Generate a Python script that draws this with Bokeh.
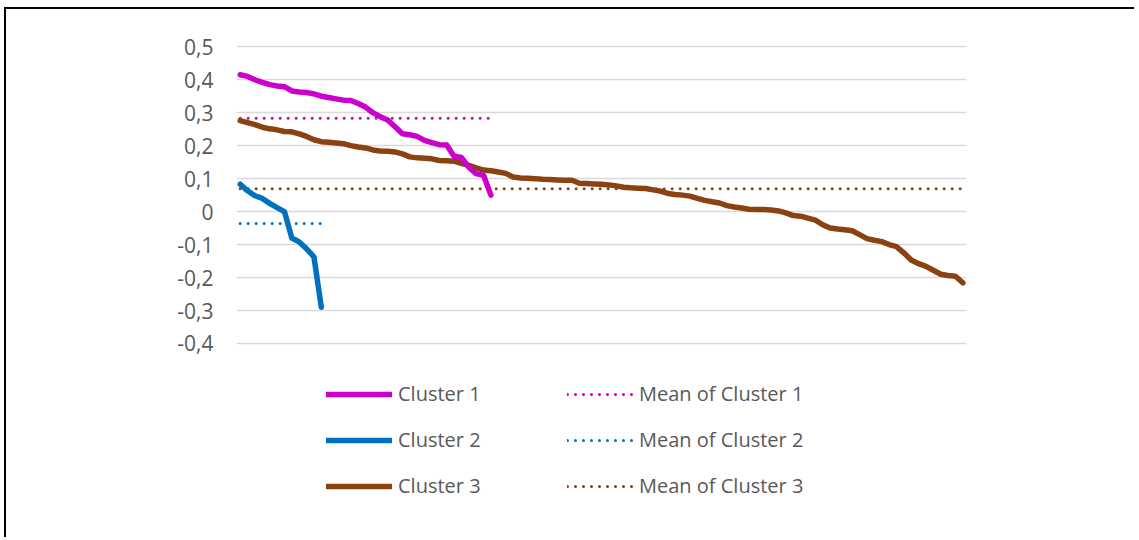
from bokeh.plotting import figure
from bokeh.models import Legend, LegendItem, FixedTicker, CustomJSTickFormatter, Range1d
from bokeh.embed import file_html
from bokeh.resources import INLINE

# ---- data ----
cluster1 = [0.415, 0.410, 0.400, 0.392, 0.385, 0.381, 0.379, 0.366, 0.363, 0.361,
            0.357, 0.350, 0.346, 0.342, 0.338, 0.337, 0.328, 0.317, 0.300, 0.288,
            0.278, 0.257, 0.236, 0.233, 0.228, 0.216, 0.209, 0.203, 0.202, 0.168,
            0.164, 0.135, 0.115, 0.110, 0.050]
cluster2 = [0.083, 0.063, 0.048, 0.040, 0.025, 0.012, 0.000, -0.080, -0.092, -0.113,
            -0.137, -0.290]
cluster3 = [0.276, 0.270, 0.264, 0.256, 0.251, 0.248, 0.243, 0.242, 0.236, 0.228,
            0.218, 0.212, 0.210, 0.208, 0.206, 0.200, 0.196, 0.193, 0.187, 0.184,
            0.183, 0.181, 0.175, 0.166, 0.163, 0.162, 0.160, 0.155, 0.154, 0.153,
            0.146, 0.140, 0.133, 0.126, 0.124, 0.120, 0.116, 0.105, 0.102, 0.101,
            0.100, 0.098, 0.097, 0.096, 0.095, 0.095, 0.086, 0.085, 0.084, 0.083,
            0.081, 0.078, 0.074, 0.072, 0.071, 0.070, 0.066, 0.062, 0.055, 0.052,
            0.050, 0.047, 0.040, 0.034, 0.030, 0.026, 0.018, 0.014, 0.011, 0.007,
            0.006, 0.006, 0.005, 0.002, -0.004, -0.012, -0.014, -0.020, -0.026, -0.040,
            -0.050, -0.053, -0.055, -0.058, -0.070, -0.082, -0.087, -0.091, -0.100, -0.106,
            -0.125, -0.147, -0.158, -0.166, -0.178, -0.190, -0.194, -0.196, -0.216]
means = [0.283, -0.036, 0.069]
series_names = ["Cluster 1", "Cluster 2", "Cluster 3"]
mean_names = ["Mean of Cluster 1", "Mean of Cluster 2", "Mean of Cluster 3"]
y_ticks = [-0.4, -0.3, -0.2, -0.1, 0.0, 0.1, 0.2, 0.3, 0.4, 0.5]

colors = ["#CC00CC", "#0070C0", "#8A4210"]
TEXT = "#595959"

n_cat = max(len(cluster1), len(cluster2), len(cluster3))

p = figure(width=1130, height=530, output_backend="svg", toolbar_location=None,
           x_range=Range1d(-0.5, n_cat - 0.5),
           y_range=Range1d(-0.99454, 0.59175),
           x_axis_location=None,
           min_border_left=230, min_border_right=170,
           min_border_top=7, min_border_bottom=0,
           outline_line_color=None, background_fill_color="white",
           border_fill_color="white")
p.styles = {"border-left": "2px solid black", "border-top": "2px solid black",
            "margin-left": "4px", "margin-top": "7px"}

p.yaxis.ticker = FixedTicker(ticks=y_ticks)
p.yaxis.formatter = CustomJSTickFormatter(code="""
    if (Math.abs(tick) < 1e-9) { return "0"; }
    return tick.toFixed(1).replace(".", ",");
""")
p.yaxis.axis_line_color = None
p.yaxis.major_tick_line_color = None
p.yaxis.minor_tick_line_color = None
p.yaxis.major_tick_out = 0
p.yaxis.major_tick_in = 0
p.yaxis.major_label_standoff = 23
p.yaxis.major_label_text_font = "Open Sans"
p.yaxis.major_label_text_font_size = "21px"
p.yaxis.major_label_text_color = TEXT
p.ygrid.grid_line_color = "#D9D9D9"
p.ygrid.grid_line_width = 1.3
p.xgrid.visible = False

data = [cluster1, cluster2, cluster3]
line_r = []
mean_r = []
for vals, m, c in zip(data, means, colors):
    xs = list(range(len(vals)))
    mean_r.append(p.line(xs, [m] * len(vals), line_color=c, line_width=3,
                         line_dash="0 8", line_cap="round"))
for vals, c in zip([cluster3, cluster2, cluster1], colors[::-1]):
    xs = list(range(len(vals)))
    line_r.append(p.line(xs, vals, line_color=c, line_width=5.5,
                         line_cap="round", line_join="round"))
line_r = line_r[::-1]

def make_legend(items, x, y):
    lg = Legend(items=items, location=(x, y), orientation="vertical",
                glyph_width=66, glyph_height=26, label_height=26,
                label_standoff=6, spacing=19, padding=0, margin=0,
                border_line_alpha=0, background_fill_alpha=0,
                label_text_font="Open Sans", label_text_font_size="20px",
                label_text_color=TEXT, click_policy="none")
    return lg

leg1 = make_legend([LegendItem(label=n, renderers=[r]) for n, r in zip(series_names, line_r)], 90, 40)
leg2 = make_legend([LegendItem(label=n, renderers=[r]) for n, r in zip(mean_names, mean_r)], 331, 40)
p.add_layout(leg1, "center")
p.add_layout(leg2, "center")

open("out.html", "w").write(file_html(p, INLINE))
